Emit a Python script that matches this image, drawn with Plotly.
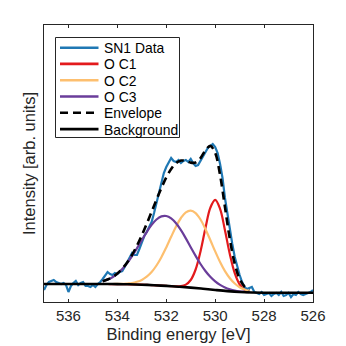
import plotly.graph_objects as go

# ---------------- data ----------------
data_energy = [537.0, 536.9, 536.8, 536.7, 536.6, 536.5, 536.4, 536.3, 536.2, 536.1,
               536.0, 535.9, 535.8, 535.7, 535.6, 535.5, 535.4, 535.3, 535.2, 535.1,
               535.0, 534.9, 534.8, 534.7, 534.6, 534.5, 534.4, 534.3, 534.2, 534.1,
               534.0, 533.9, 533.8, 533.7, 533.6, 533.5, 533.4, 533.3, 533.2, 533.1,
               533.0, 532.9, 532.8, 532.7, 532.6, 532.5, 532.4, 532.3, 532.2, 532.1,
               532.0, 531.9, 531.8, 531.7, 531.6, 531.5, 531.4, 531.3, 531.2, 531.1,
               531.0, 530.9, 530.8, 530.7, 530.6, 530.5, 530.4, 530.3, 530.2, 530.1,
               530.0, 529.9, 529.8, 529.7, 529.6, 529.5, 529.4, 529.3, 529.2, 529.1,
               529.0, 528.9, 528.8, 528.7, 528.6, 528.5, 528.4, 528.3, 528.2, 528.1,
               528.0, 527.9, 527.8, 527.7, 527.6, 527.5, 527.4, 527.3, 527.2, 527.1,
               527.0, 526.9, 526.8, 526.7, 526.6, 526.5, 526.4, 526.3, 526.2, 526.1,
               526.0]
data_intensity = [12, 17, 20, 21, 22, 20, 19, 18, 19, 17,
                  10, 16, 19, 21, 17, 19, 20, 16, 16, 15,
                  17, 15, 18, 20, 23, 26, 30, 28, 27, 29,
                  28, 30, 31, 35, 40, 44, 49, 47, 47, 53,
                  59, 66, 70, 75, 80, 89, 99, 109, 118, 129,
                  135, 139, 144, 141, 140, 142, 139, 141, 142, 140,
                  143, 139, 136, 137, 141, 145, 149, 154, 156, 158,
                  155, 149, 138, 124, 104, 88, 72, 58, 45, 35,
                  27, 20, 15, 13, 14, 15, 10, 9, 8, 10,
                  7, 8, 9, 6, 8, 9, 7, 10, 6, 7,
                  9, 5, 8, 7, 10, 8, 7, 8, 9, 10,
                  12]

fit_energy = [534.6, 534.4, 534.2, 534.0, 533.8, 533.6, 533.4, 533.2, 533.0, 532.8,
              532.6, 532.4, 532.2, 532.0, 531.8, 531.6, 531.4, 531.2, 531.0, 530.8,
              530.6, 530.4, 530.2, 530.0, 529.8, 529.6, 529.4, 529.2, 529.0, 528.8,
              528.6]
oc1 = [18.0, 18.0, 17.9, 17.9, 17.8, 17.8, 17.6, 17.5, 17.3, 17.1,
       16.9, 16.7, 16.4, 16.1, 15.8, 15.6, 15.8, 17.4, 22.0, 32.5,
       50.6, 73.7, 94.1, 102.1, 93.1, 71.7, 47.7, 28.8, 17.6, 12.4,
       10.3]
oc2 = [18.0, 18.0, 18.0, 18.1, 18.1, 18.5, 19.0, 20.2, 22.1, 25.3,
       30.0, 36.5, 44.8, 54.6, 65.2, 75.5, 84.0, 89.7, 91.4, 88.9,
       82.5, 73.1, 62.0, 50.6, 40.0, 30.9, 23.8, 18.5, 14.8, 12.5,
       11.0]
oc3 = [20.7, 22.4, 24.8, 28.4, 32.9, 38.8, 45.8, 53.6, 61.9, 69.9,
       77.1, 82.5, 85.6, 86.0, 83.6, 78.7, 71.8, 63.6, 54.7, 46.1,
       38.0, 31.0, 25.2, 20.6, 17.1, 14.6, 12.8, 11.5, 10.7, 10.2,
       9.8]
envelope = [20.7, 22.5, 24.9, 28.5, 33.3, 39.5, 47.2, 56.3, 66.7, 78.1,
            90.2, 102.3, 114.0, 124.5, 133.0, 138.9, 141.4, 141.1, 139.4, 139.5,
            143.9, 151.6, 156.1, 149.1, 127.0, 95.0, 62.9, 38.2, 23.1, 15.4,
            11.9]

bg_energy = [537.0, 536.5, 536.0, 535.5, 535.0, 534.5, 534.0, 533.5, 533.0, 532.5,
             532.0, 531.5, 531.0, 530.5, 530.0, 529.5, 529.0, 528.5, 528.0, 527.5,
             527.0, 526.5, 526.0]
background = [18.0, 18.0, 18.0, 18.0, 18.0, 18.0, 17.9, 17.7, 17.3, 16.8,
              16.1, 15.3, 14.4, 13.3, 12.05, 10.9, 10.0, 9.5, 9.3, 9.3,
              9.3, 9.3, 9.3]

x_ticks = [536, 534, 532, 530, 528, 526]
x_tick_labels = ["536", "534", "532", "530", "528", "526"]

names = ["SN1 Data", "O C1", "O C2", "O C3", "Envelope", "Background"]
colors = ["#1F78B4", "#E31A1C", "#FDBF6F", "#6A3D9A", "#000000", "#000000"]

# ---------------- figure ----------------
fig = go.Figure()
fig.add_trace(go.Scatter(x=data_energy, y=data_intensity, mode="lines", name=names[0],
                         line=dict(color=colors[0], width=2.2)))
fig.add_trace(go.Scatter(x=fit_energy, y=oc1, mode="lines", name=names[1],
                         line=dict(color=colors[1], width=2.2, shape="spline")))
fig.add_trace(go.Scatter(x=fit_energy, y=oc2, mode="lines", name=names[2],
                         line=dict(color=colors[2], width=2.2, shape="spline")))
fig.add_trace(go.Scatter(x=fit_energy, y=oc3, mode="lines", name=names[3],
                         line=dict(color=colors[3], width=2.2, shape="spline")))
fig.add_trace(go.Scatter(x=fit_energy, y=envelope, mode="lines", name=names[4],
                         line=dict(color=colors[4], width=2.6, dash="8px,5px", shape="spline")))
fig.add_trace(go.Scatter(x=bg_energy, y=background, mode="lines", name=names[5],
                         line=dict(color=colors[5], width=2.6, shape="spline")))

W, H = 346, 346
L, R, T, B = 44, 33, 25, 44


def px_x(px):
    return (px - L) / (W - L - R)


def px_y(py):
    return (H - B - py) / (H - T - B)


# hand-drawn legend box (MATLAB-like compact legend)
box_x0, box_x1, box_y0, box_y1 = 55.5, 179.5, 37.5, 137.5
shapes = [dict(type="rect", xref="paper", yref="paper",
               x0=px_x(box_x0), x1=px_x(box_x1), y0=px_y(box_y1), y1=px_y(box_y0),
               line=dict(color="#262626", width=1), fillcolor="white", layer="above")]
annotations = []
row_y = [47.7, 63.9, 80.2, 96.5, 112.8, 129.1]
dashes = ["solid", "solid", "solid", "solid", "8px,5px", "solid"]
for i, name in enumerate(names):
    shapes.append(dict(type="line", xref="paper", yref="paper",
                       x0=px_x(60), x1=px_x(98.5), y0=px_y(row_y[i]), y1=px_y(row_y[i]),
                       line=dict(color=colors[i], width=2.6, dash=dashes[i]), layer="above"))
    annotations.append(dict(xref="paper", yref="paper", x=px_x(101.5), y=px_y(row_y[i] + 0.5),
                            xanchor="left", yanchor="middle", showarrow=False, text=name,
                            font=dict(family="Liberation Sans, Arial, sans-serif", size=13.9,
                                      color="#000000")))

fig.update_layout(
    width=W, height=H,
    margin=dict(l=L, r=R, t=T, b=B, autoexpand=False),
    paper_bgcolor="white", plot_bgcolor="white",
    showlegend=False,
    font=dict(family="Liberation Sans, Arial, sans-serif", size=15, color="#262626"),
    shapes=shapes, annotations=annotations,
    xaxis=dict(range=[537, 526], tickmode="array", tickvals=x_ticks, ticktext=x_tick_labels,
               ticks="inside", ticklen=3, tickwidth=1, tickcolor="#262626",
               showline=True, linecolor="#262626", linewidth=1, mirror="ticks",
               showgrid=False, zeroline=False, tickfont=dict(size=15), automargin=False,
               title=dict(text="Binding energy [eV]", font=dict(size=16.5), standoff=5)),
    yaxis=dict(range=[0, 277], showticklabels=False, ticks="", automargin=False,
               showline=True, linecolor="#262626", linewidth=1, mirror=True,
               showgrid=False, zeroline=False,
               title=dict(text="Intensity [arb. units]", font=dict(size=16.5), standoff=3)),
)

fig.write_html("out.html", config={"displayModeBar": False},
               post_script="document.body.style.margin='0';document.body.style.overflow='hidden';")
